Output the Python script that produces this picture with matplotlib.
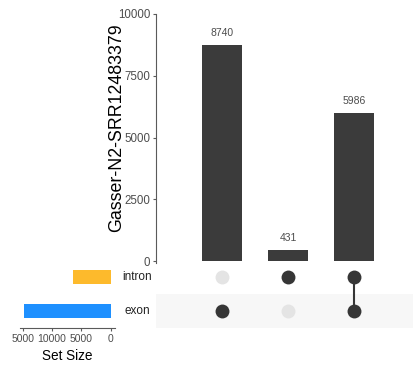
import numpy as np
import matplotlib
matplotlib.use("Agg")
import matplotlib.pyplot as plt
import matplotlib.transforms as mtransforms

plt.rcParams['font.family'] = ['Liberation Sans', 'DejaVu Sans']

# intersections (columns) and sets (rows)
sets = ["exon", "intron"]
set_colors = ["#1E90FF", "#FDBA2C"]
intersection_sizes = [8740, 431, 5986]
# membership per intersection: (exon, intron)
membership = [(1, 0), (0, 1), (1, 1)]
set_sizes = [sum(s for s, m in zip(intersection_sizes, membership) if m[i]) for i in range(len(sets))]

main_ticks = [0, 2500, 5000, 7500, 10000]
size_ticks = [15000, 10000, 5000, 0]
size_tick_labels = ["5000", "10000", "5000", "0"]

bar_col = "#3b3b3b"
dot_on = "#363636"
dot_off = "#e4e4e4"
tick_col = "#4d4d4d"
axis_col = "#5a5a5a"

W, H = 414, 368
fig = plt.figure(figsize=(W / 100, H / 100), dpi=100)

def frac(x0, y0, x1, y1):
    # pixel box (top-left origin) -> figure fractions
    return [x0 / W, 1 - y1 / H, (x1 - x0) / W, (y1 - y0) / H]

xs = np.arange(len(intersection_sizes))
xlim = (-1.0, 2.91)

# intersection size bars
ax_bar = fig.add_axes(frac(156, 14, 414, 263))
ax_bar.bar(xs, intersection_sizes, width=0.6, color=bar_col)
for x, v in zip(xs, intersection_sizes):
    ax_bar.annotate(str(v), (x, v), xytext=(0, 5), textcoords="offset points",
                    ha="center", va="bottom", fontsize=7.5, color=tick_col)
ax_bar.set_xlim(xlim)
ax_bar.set_ylim(-80, 10000)
ax_bar.set_yticks(main_ticks)
ax_bar.set_yticklabels([str(t) for t in main_ticks])
ax_bar.set_xticks([])
for s in ["top", "right", "bottom"]:
    ax_bar.spines[s].set_visible(False)
ax_bar.spines["left"].set_color(axis_col)
ax_bar.spines["left"].set_linewidth(0.8)
ax_bar.tick_params(axis="y", length=2.5, width=0.8, color=axis_col,
                   labelsize=8.3, labelcolor=tick_col, pad=1.5)
ax_bar.set_ylabel("Gasser-N2-SRR12483379", fontsize=12.8)
ax_bar.yaxis.set_label_coords(-0.118, 0.545)

# membership matrix
ax_mat = fig.add_axes(frac(156, 260, 414, 328))
ax_mat.axhspan(-0.5, 0.5, color="#f7f7f7", lw=0, zorder=0)
for x, m in zip(xs, membership):
    ys_on = [i for i in range(len(sets)) if m[i]]
    ys_off = [i for i in range(len(sets)) if not m[i]]
    if len(ys_on) > 1:
        ax_mat.plot([x, x], [min(ys_on), max(ys_on)], color=dot_on, lw=1.5, zorder=2)
    ax_mat.scatter([x] * len(ys_on), ys_on, s=100, color=dot_on, zorder=3, lw=0)
    ax_mat.scatter([x] * len(ys_off), ys_off, s=100, color=dot_off, zorder=3, lw=0)
ax_mat.set_xlim(xlim)
ax_mat.set_ylim(-0.5, 1.5)
ax_mat.axis("off")

# set names between the two panels
trans = mtransforms.blended_transform_factory(fig.transFigure, ax_mat.transData)
for i, name in enumerate(sets):
    ax_mat.text(137 / W, i, name, transform=trans, ha="center", va="center",
                fontsize=8.5, color="#222222", clip_on=False)

# set size bars
ax_size = fig.add_axes(frac(20, 260, 115, 328))
ax_size.barh(range(len(sets)), set_sizes, height=0.42, color=set_colors)
ax_size.set_xlim(15462, -736)
ax_size.set_ylim(-0.5, 1.5)
ax_size.set_xticks(size_ticks)
ax_size.set_xticklabels(size_tick_labels)
ax_size.set_yticks([])
for s in ["top", "right", "left"]:
    ax_size.spines[s].set_visible(False)
ax_size.spines["bottom"].set_color(axis_col)
ax_size.spines["bottom"].set_linewidth(0.8)
ax_size.tick_params(axis="x", length=2.5, width=0.8, color=axis_col,
                    labelsize=7.5, labelcolor=tick_col, pad=1.5)
ax_size.set_xlabel("Set Size", fontsize=9.8, labelpad=4)

fig.savefig("out.png", dpi=100)
